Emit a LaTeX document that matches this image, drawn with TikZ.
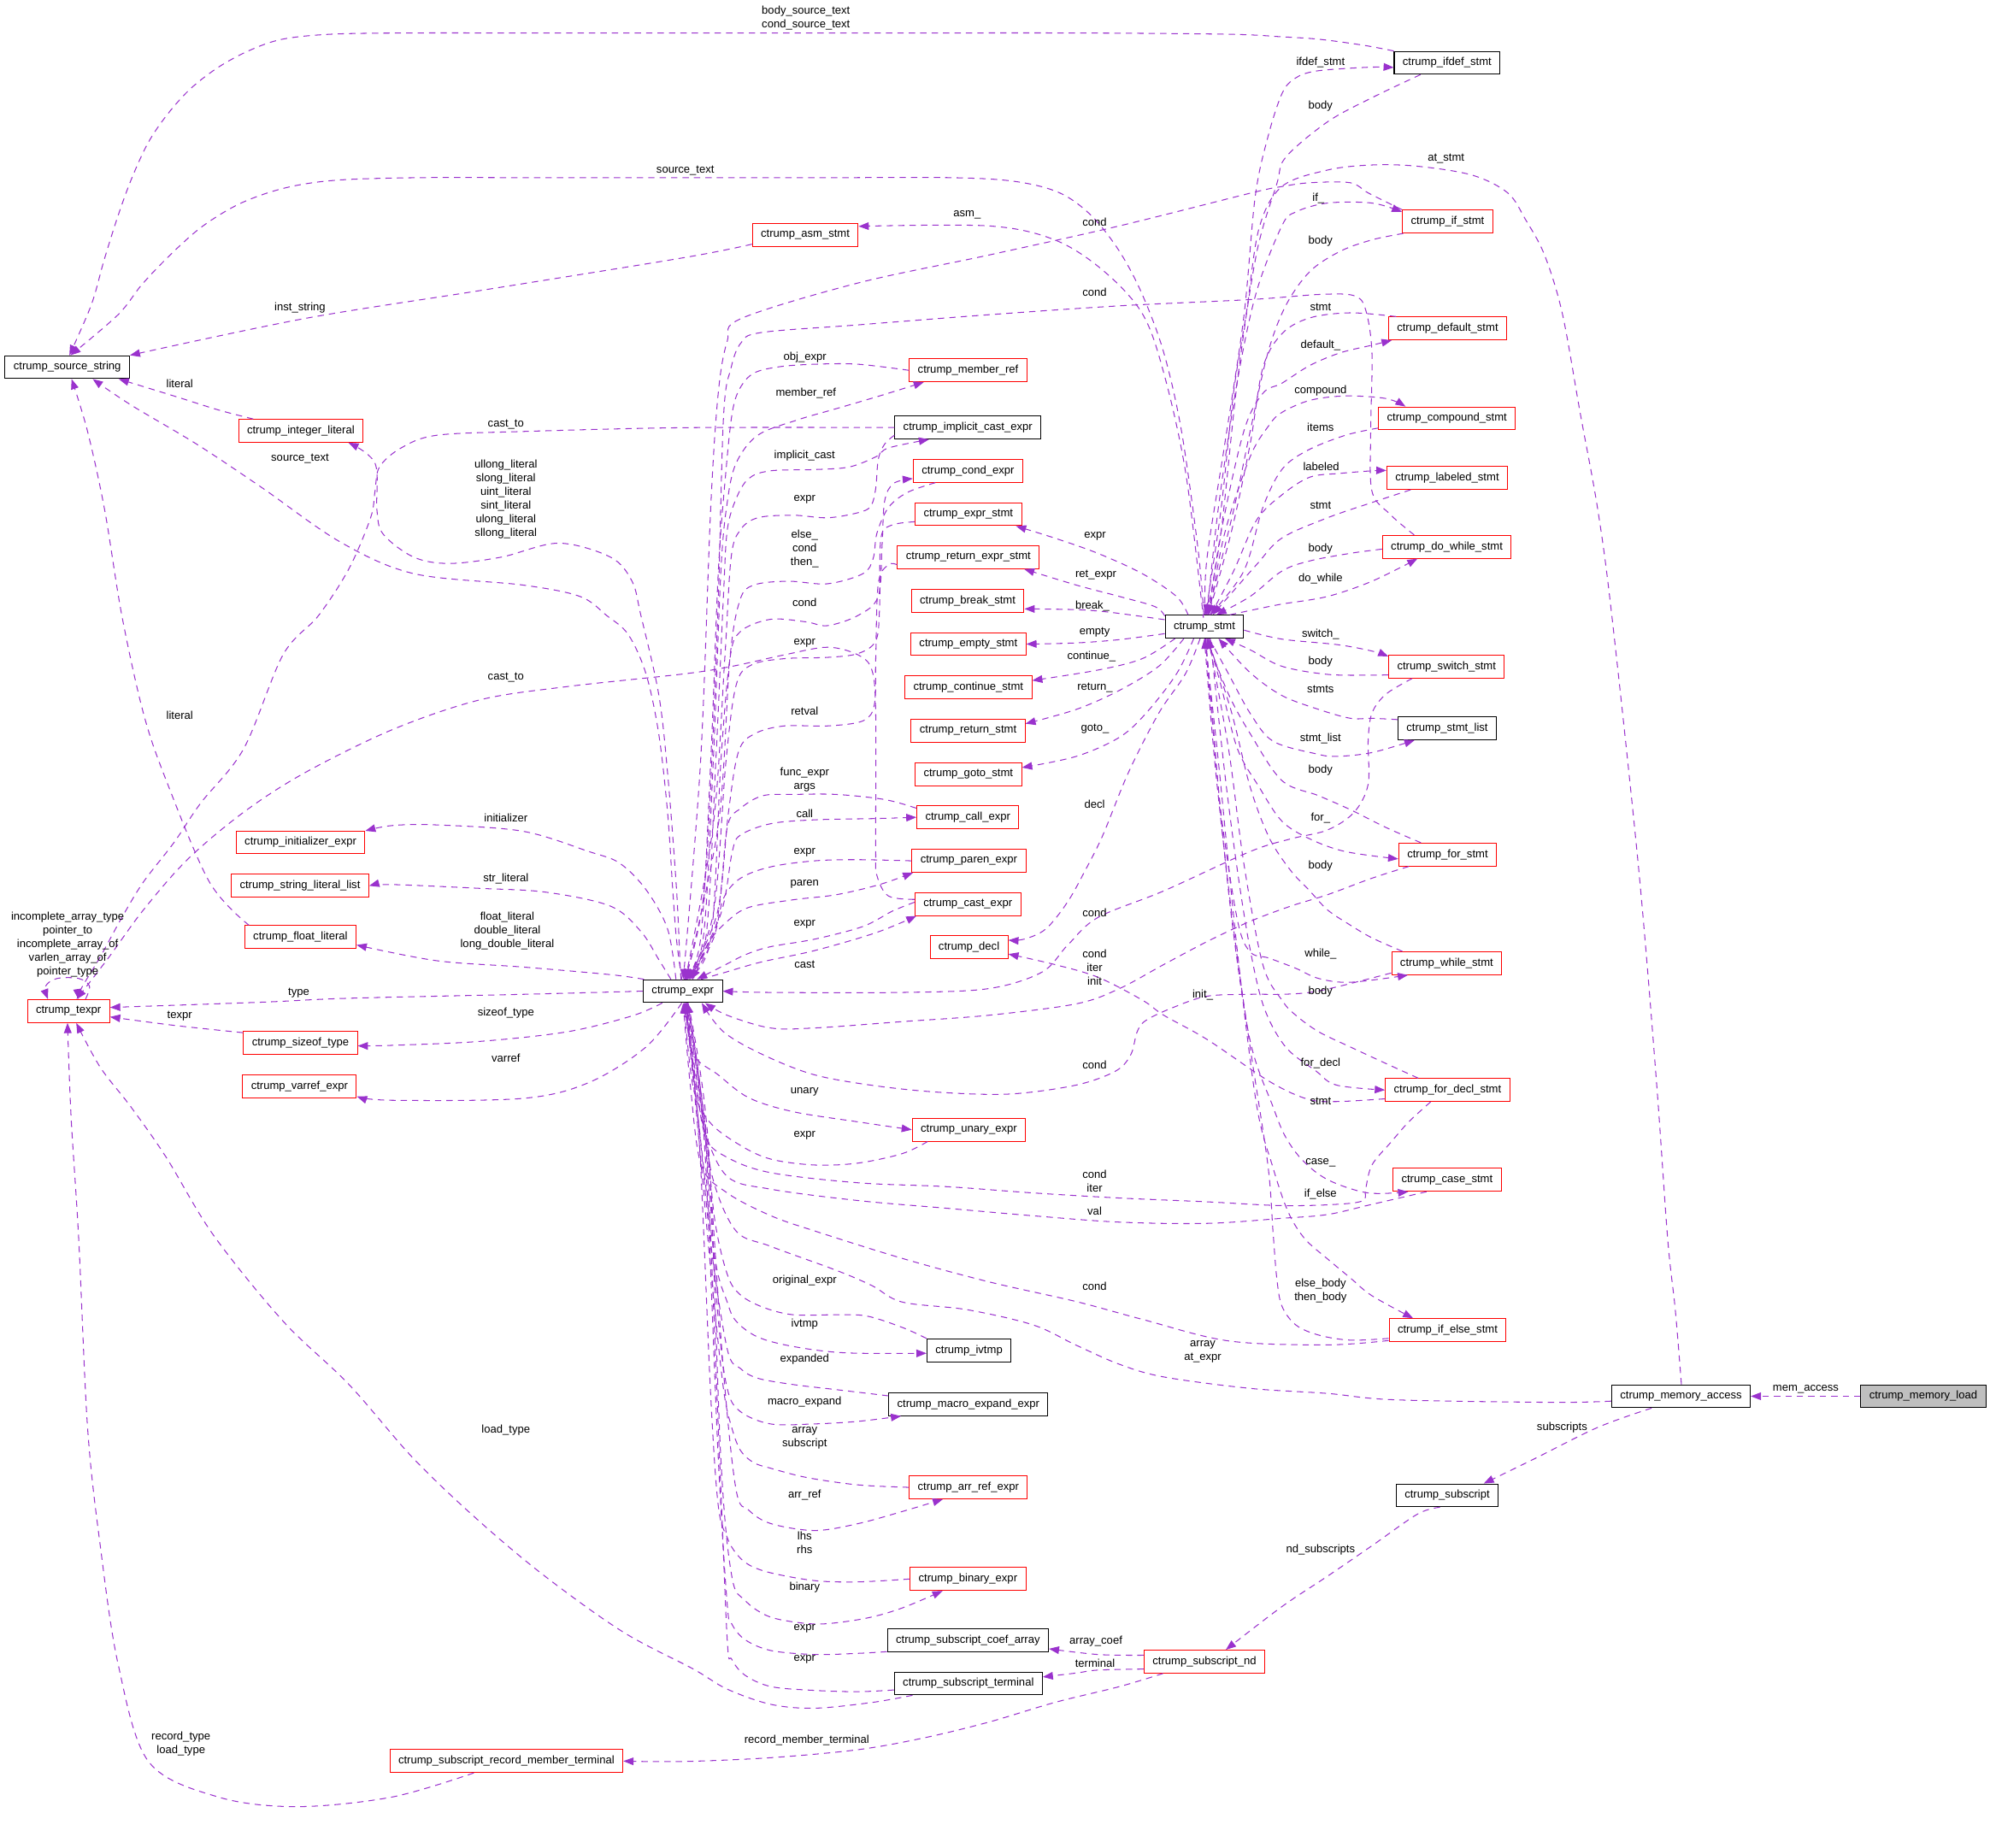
\documentclass[tikz,border=0pt]{standalone}
\usepackage{fontspec}
\setmainfont{Liberation Sans}
\usetikzlibrary{arrows.meta}
\definecolor{edgepurple}{HTML}{9A32CD}
\newcommand{\dfont}{\fontsize{8.8}{10.8}\selectfont}

\begin{document}
\begin{tikzpicture}[x=1pt,y=-1pt,
  cls/.style={draw=black,line width=0.7pt,fill=white,font=\dfont,inner xsep=6.7pt,inner ysep=0pt,minimum height=18pt},
  inc/.style={cls,draw=red},
  root/.style={cls,fill=black!25},
  rel/.style={draw=edgepurple,line width=0.7pt,dash pattern=on 5pt off 4pt,
    -{Triangle[length=8pt,width=6pt,fill=edgepurple]}},
  lbl/.style={font=\dfont,align=center,inner sep=0pt}]
\useasboundingbox (0,0) rectangle (1568,1456);

% classes, left
\node[cls] (ss) at (53,289.3) {ctrump\_source\_string};
\node[inc] (texpr) at (54,796.7) {ctrump\_texpr};
\node[inc] (intlit) at (237,339.5) {ctrump\_integer\_literal};
\node[inc] (asm) at (634.5,185) {ctrump\_asm\_stmt};
\node[inc] (init) at (236.8,663.7) {ctrump\_initializer\_expr};
\node[inc] (strlist) at (236.4,698) {ctrump\_string\_literal\_list};
\node[inc] (floatlit) at (236.7,738.4) {ctrump\_float\_literal};
\node[inc] (sizeof) at (236.7,821.7) {ctrump\_sizeof\_type};
\node[inc] (varref) at (236,856) {ctrump\_varref\_expr};
\node[cls] (expr) at (538,781) {ctrump\_expr};
\node[inc] (srmt) at (399,1387.7) {ctrump\_subscript\_record\_member\_terminal};

% classes, middle
\node[inc] (memref) at (762.8,291.8) {ctrump\_member\_ref};
\node[cls] (implcast) at (762.6,336.9) {ctrump\_implicit\_cast\_expr};
\node[inc] (condexpr) at (762.7,371) {ctrump\_cond\_expr};
\node[inc] (exprstmt) at (763,405.2) {ctrump\_expr\_stmt};
\node[inc] (retexprstmt) at (763,439.1) {ctrump\_return\_expr\_stmt};
\node[inc] (breakstmt) at (762.5,473.5) {ctrump\_break\_stmt};
\node[inc] (emptystmt) at (763,507.5) {ctrump\_empty\_stmt};
\node[inc] (contstmt) at (763,541.5) {ctrump\_continue\_stmt};
\node[inc] (retstmt) at (762.8,575.8) {ctrump\_return\_stmt};
\node[inc] (gotostmt) at (763,610) {ctrump\_goto\_stmt};
\node[inc] (callexpr) at (762.6,644) {ctrump\_call\_expr};
\node[inc] (parenexpr) at (763.4,678.3) {ctrump\_paren\_expr};
\node[inc] (castexpr) at (762.6,712.4) {ctrump\_cast\_expr};
\node[inc] (decl) at (763.5,746.3) {ctrump\_decl};
\node[inc] (unary) at (763.4,890.2) {ctrump\_unary\_expr};
\node[cls] (ivtmp) at (763.5,1064) {ctrump\_ivtmp};
\node[cls] (macro) at (763,1106.5) {ctrump\_macro\_expand\_expr};
\node[inc] (arrref) at (763,1172) {ctrump\_arr\_ref\_expr};
\node[inc] (binary) at (762.7,1244.2) {ctrump\_binary\_expr};
\node[cls] (coefarr) at (762.7,1292.5) {ctrump\_subscript\_coef\_array};
\node[cls] (subterm) at (763,1326.5) {ctrump\_subscript\_terminal};
\node[cls] (stmt) at (949,493.8) {ctrump\_stmt};
\node[inc] (subnd) at (949,1309.3) {ctrump\_subscript\_nd};

% classes, right
\node[cls] (ifdef) at (1140.2,49.5) {ctrump\_ifdef\_stmt};
\node[inc] (ifstmt) at (1140.6,174.6) {ctrump\_if\_stmt};
\node[inc] (default) at (1140.6,258.8) {ctrump\_default\_stmt};
\node[inc] (compound) at (1140.1,329.7) {ctrump\_compound\_stmt};
\node[inc] (labeled) at (1140.3,376.6) {ctrump\_labeled\_stmt};
\node[inc] (dowhile) at (1140,430.9) {ctrump\_do\_while\_stmt};
\node[inc] (switch) at (1139.8,525.3) {ctrump\_switch\_stmt};
\node[cls] (stmtlist) at (1140.3,573.9) {ctrump\_stmt\_list};
\node[inc] (forstmt) at (1140.6,673.4) {ctrump\_for\_stmt};
\node[inc] (whilestmt) at (1139.9,759) {ctrump\_while\_stmt};
\node[inc] (fordecl) at (1140.6,858.9) {ctrump\_for\_decl\_stmt};
\node[inc] (casestmt) at (1140.2,929.7) {ctrump\_case\_stmt};
\node[inc] (ifelse) at (1140.6,1048.1) {ctrump\_if\_else\_stmt};
\node[cls] (memacc) at (1324.5,1100.2) {ctrump\_memory\_access};
\node[cls] (subscript) at (1140.3,1178.3) {ctrump\_subscript};
\node[root] (memload) at (1515.4,1100.2) {ctrump\_memory\_load};

% into ctrump_source_string
\draw[rel] plot[smooth,tension=.55] coordinates {(ifdef.north west) (1074,35.6) (1040,31) (1010,29) (968,27) (850,26) (700,26) (550,26) (420,26) (320,26) (260,27) (222,31) (196,40) (172,53) (150,70) (132,90) (117,112) (104,140) (93,170) (82,205) (72,240) (ss.80)}
  node[lbl] (tBodySrc) at (635,14.1) {body\_source\_text\\cond\_source\_text};
\draw[rel] plot[smooth,tension=.55] coordinates {(stmt.93) (944,433) (931,340) (917,278) (900,232) (882,198) (860,170) (835,152) (800,143) (750,140) (650,140) (530,140) (420,140) (330,140) (265,142) (225,148) (190,160) (160,178) (135,200) (112,224) (93,248) (ss.75)}
  node[lbl] (tSrcTop) at (540,134.5) {source\_text};
\draw[rel] plot[smooth,tension=.55] coordinates {(asm.190) (539,203) (378,229) (240,251) (ss.north east)}
  node[lbl] (tInst) at (236.4,242.8) {inst\_string};
\draw[rel] plot[smooth,tension=.55] coordinates {(intlit.166) (172,323) (137,312) (ss.-13)}
  node[lbl] (tLitInt) at (141.6,302.2) {literal};
\draw[rel] plot[smooth,tension=.55] coordinates {(expr.95) (533,740) (530,700) (526,640) (519,578) (509,531) (495,500) (478,485) (457,470) (412,461) (326,452) (268,427) (206,384) (155,350) (103,319) (ss.-25)}
  node[lbl] (tSrcLow) at (236.4,361.3) {source\_text};
\draw[rel] plot[smooth,tension=.55] coordinates {(floatlit.167) (165,695) (131,615) (113,562) (96,485) (82.5,402) (69,340) (ss.-70)}
  node[lbl] (tLitFloat) at (141.6,563.9) {literal};

% into ctrump_texpr
\draw[rel] plot[smooth,tension=.55] coordinates {(implcast.west) (540,337) (412,340) (344,343) (316,353) (299,368) (295.5,387) (292,408) (275,448) (251,485) (223,516) (192,590) (158,633) (137,664) (113,695) (96,723) (79,754) (64,779) (texpr.50)}
  node[lbl] (tCastTop) at (398.6,334.7) {cast\_to};
\draw[rel] plot[smooth,tension=.55] coordinates {(castexpr.175) (700,706) (691,690) (690,670) (690,562) (687,528) (676,516) (652,510) (618,516) (577,525) (539,531) (447,541) (378,551.5) (309,575) (240,609) (192,640) (148,677) (113,717) (86,754) (texpr.56)}
  node[lbl] (tCastMid) at (398.6,533.6) {cast\_to};
\draw[rel] plot[smooth,tension=.55] coordinates {(texpr.35) (70.5,777) (62,771) (45,771) (36,777) (texpr.150)}
  node[lbl] (tSelf) at (53.3,744.2) {incomplete\_array\_type\\pointer\_to\\incomplete\_array\_of\\varlen\_array\_of\\pointer\_type};
\draw[rel] plot[smooth,tension=.55] coordinates {(expr.west) (412,783.5) (275,786.6) (206,789.7) (texpr.5)}
  node[lbl] (tType) at (235.4,782.5) {type};
\draw[rel] plot[smooth,tension=.55] coordinates {(sizeof.170) (137.5,808) (texpr.-8)}
  node[lbl] (tTexpr) at (141.6,800.5) {texpr};
\draw[rel] plot[smooth,tension=.55] coordinates {(subterm.-168) (687,1341.5) (642,1346) (607.5,1343) (573,1331) (546,1315) (491,1286) (430,1242.5) (378,1199) (326,1149.5) (275,1091) (223,1041) (168,973) (131,912) (103,872) (79,841) (texpr.-57)}
  node[lbl] (tLoad) at (398.6,1126.9) {load\_type};
\draw[rel] plot[smooth,tension=.55] coordinates {(srmt.-160) (309,1416) (234,1423.6) (172,1416) (117,1388) (93,1311) (79,1218) (69,1125) (62,976) (56,880) (texpr.-95)}
  node[lbl] (tRecord) at (142.6,1373.9) {record\_type\\load\_type};

% from ctrump_expr to the left column
\draw[rel] plot[smooth,tension=.55] coordinates {(expr.97) (536,763) (533,700) (526,609) (519,547) (505,485) (498,458) (481,439) (440,428) (395,439) (354,444) (326,439) (302,421) (297,402) (295.5,365) (intlit.-14)}
  node[lbl] (tIntLits) at (398.6,393.2) {ullong\_literal\\slong\_literal\\uint\_literal\\sint\_literal\\ulong\_literal\\sllong\_literal};
\draw[rel] plot[smooth,tension=.55] coordinates {(expr.120) (526,732) (509,701) (488,680) (464,671) (412,655) (344,650) (309,650.5) (init.10)}
  node[lbl] (tInit) at (398.6,644.3) {initializer};
\draw[rel] plot[smooth,tension=.55] coordinates {(expr.135) (519,756) (505,734) (481,714) (430,703) (378,700) (309,697) (strlist.east)}
  node[lbl] (tStr) at (398.6,692.2) {str\_literal};
\draw[rel] plot[smooth,tension=.55] coordinates {(expr.163) (481,768) (412,762) (344,757) (floatlit.-8)}
  node[lbl] (tFloats) at (399.7,733.4) {float\_literal\\double\_literal\\long\_double\_literal};
\draw[rel] plot[smooth,tension=.55] coordinates {(expr.-150) (498,800.5) (447,813) (378,820.6) (309,823.7) (sizeof.-3)}
  node[lbl] (tSizeof) at (398.6,798) {sizeof\_type};
\draw[rel] plot[smooth,tension=.55] coordinates {(expr.-95) (509,825) (464,853) (412,865.5) (309,867) (varref.-10)}
  node[lbl] (tVarref) at (398.6,833.6) {varref};

% ctrump_expr and the middle column, above
\draw[rel] plot[smooth,tension=.55] coordinates {(memref.west) (676,287) (642,287) (614,289) (594,294) (583,306) (577,325) (572,371) (566,450) (560,600) (552,740) (expr.85)}
  node[lbl] (tObj) at (634.3,281.5) {obj\_expr};
\draw[rel] plot[smooth,tension=.55] coordinates {(expr.83) (554,740) (562,600) (568,450) (573,396) (580,365) (597,343) (628,331) (659,322) (693,312) (memref.-165)}
  node[lbl] (tMemRef) at (635,310.2) {member\_ref};
\draw[rel] plot[smooth,tension=.55] coordinates {(expr.81) (556,740) (564,600) (570,470) (573,418) (580,393) (590,377) (607,371) (642,370) (669,368) (690,360) (700,353) (implcast.-163)}
  node[lbl] (tImpl) at (634,358.8) {implicit\_cast};
\draw[rel] plot[smooth,tension=.55] coordinates {(implcast.-174) (697,350) (692,362) (690,385) (686,399) (676,404) (652,408) (625,406) (597,408) (583,418) (576,440) (571,520) (562,650) (expr.78)}
  node[lbl] (tImplExpr) at (634,393.4) {expr};
\draw[rel] plot[smooth,tension=.55] coordinates {(condexpr.-160) (715,388) (700,400) (691,420) (688,440) (680,452) (652,460) (621,458) (594,461) (583,473) (575,520) (566,650) (expr.76)}
  node[lbl] (tElse) at (634,432.4) {else\_\\cond\\then\_};
\draw[rel] plot[smooth,tension=.55] coordinates {(expr.74) (560,740) (568,600) (575,520) (583,498) (607,488) (635,490) (652,493) (676,485) (692,470) (695,430) (697,395) (704,381) (condexpr.-172)}
  node[lbl] (tCondExpr) at (634,474.8) {cond};
\draw[rel] plot[smooth,tension=.55] coordinates {(exprstmt.-172) (702,414) (694,425) (693,480) (690,505) (676,515) (652,518) (618,519) (592,524) (580,540) (572,600) (562,720) (expr.72)}
  node[lbl] (tExprStmt) at (634,506.7) {expr};
\draw[rel] plot[smooth,tension=.55] coordinates {(retexprstmt.-174) (700,445) (692,460) (690,520) (689,555) (680,568) (652,572) (618,572) (595,578) (582,592) (574,640) (564,730) (expr.70)}
  node[lbl] (tRetval) at (634,560) {retval};
\draw[rel] plot[smooth,tension=.55] coordinates {(callexpr.170) (697,630) (659,626) (625,626) (601,627) (583.5,637) (573,652) (565,720) (expr.65)}
  node[lbl] (tFunc) at (634,614.5) {func\_expr\\args};
\draw[rel] plot[smooth,tension=.55] coordinates {(expr.60) (568,720) (577,671) (583.5,658) (607.5,649) (642,646) (690,645) (callexpr.west)}
  node[lbl] (tCall) at (634,641.2) {call};
\draw[rel] plot[smooth,tension=.55] coordinates {(parenexpr.180) (676,677.4) (642,678.3) (607.5,683) (583.5,692) (570,708) (562,740) (expr.55)}
  node[lbl] (tParenExpr) at (634,672) {expr};
\draw[rel] plot[smooth,tension=.55] coordinates {(expr.50) (559,742) (573,726) (590,715) (625,709) (659,705) (693,697) (parenexpr.-168)}
  node[lbl] (tParen) at (634,696.6) {paren};
\draw[rel] plot[smooth,tension=.55] coordinates {(castexpr.178) (703,718) (680,730) (642,740) (607,746) (588,752) (570,761) (expr.40)}
  node[lbl] (tCastExpr) at (634,728.4) {expr};
\draw[rel] plot[smooth,tension=.55] coordinates {(expr.33) (572,766) (600,758) (642,749) (690,735) (castexpr.-167)}
  node[lbl] (tCast) at (634,759.7) {cast};

% ctrump_expr and the middle column, below
\draw[rel] plot[smooth,tension=.55] coordinates {(expr.-70) (546,830) (566,847) (590,865) (625,876) (676,884) (unary.west)}
  node[lbl] (tUnary) at (634,860.2) {unary};
\draw[rel] plot[smooth,tension=.55] coordinates {(unary.-164) (711,909) (676,916.5) (642,918) (607.5,913.4) (583.5,902.6) (559,884) (546,856) (expr.-84)}
  node[lbl] (tUnaryExpr) at (634,894.8) {expr};
\draw[rel] plot[smooth,tension=.55] coordinates {(ivtmp.north west) (711,1046) (683,1037) (659,1036) (625,1036) (601,1030) (583,1020) (573,1004) (563,960) (555,880) (expr.-78)}
  node[lbl] (tOrig) at (634,1009) {original\_expr};
\draw[rel] plot[smooth,tension=.55] coordinates {(expr.-75) (550,880) (563,990) (573,1026) (580,1041) (597,1053.5) (625,1061) (666,1066) (ivtmp.-176)}
  node[lbl] (tIvtmp) at (634,1043.6) {ivtmp};
\draw[rel] plot[smooth,tension=.55] coordinates {(macro.174) (659,1095) (625,1091) (597,1086) (583,1078) (573,1063) (560,980) (550,880) (expr.-80)}
  node[lbl] (tExpanded) at (634,1070.9) {expanded};
\draw[rel] plot[smooth,tension=.55] coordinates {(expr.-72) (556,900) (566,1040) (573,1094) (583,1112) (607,1122) (642,1122) (676,1120) (macro.-170)}
  node[lbl] (tMacro) at (634,1104.6) {macro\_expand};
\draw[rel] plot[smooth,tension=.55] coordinates {(arrref.west) (683,1170.6) (659,1168) (632,1163.5) (607.5,1157) (594,1152.6) (583.5,1143) (576.6,1125) (570,1094) (560,1000) (549,880) (expr.-77)}
  node[lbl] (tArrSub) at (634,1132.8) {array\\subscript};
\draw[rel] plot[smooth,tension=.55] coordinates {(expr.-68) (557,900) (570,1080) (580,1174) (590,1190) (607.5,1200.6) (642,1206) (676,1200.6) (711,1191) (arrref.-155)}
  node[lbl] (tArrRef) at (634,1178) {arr\_ref};
\draw[rel] plot[smooth,tension=.55] coordinates {(binary.west) (676,1246.5) (642,1245.5) (607.5,1239.4) (590,1233) (580,1224) (573,1211.5) (566,1187) (560,1100) (551,900) (expr.-73)}
  node[lbl] (tLhsRhs) at (634,1215.4) {lhs\\rhs};
\draw[rel] plot[smooth,tension=.55] coordinates {(expr.-66) (558,900) (568,1150) (576.6,1242) (587,1261) (604,1273) (625,1278) (649,1279.6) (683,1275) (711,1267) (binary.-155)}
  node[lbl] (tBinary) at (634,1250.5) {binary};
\draw[rel] plot[smooth,tension=.55] coordinates {(coefarr.-172) (676,1302.8) (642,1303.7) (607.5,1300.6) (587,1292) (576.6,1279.6) (573,1264) (566,1150) (555,900) (expr.-70)}
  node[lbl] (tCoefExpr) at (634,1283) {expr};
\draw[rel] plot[smooth,tension=.55] coordinates {(subterm.-175) (676,1333) (642,1332) (607.5,1329) (587,1320) (576.6,1307.5) (573,1292) (567,1150) (556,900) (expr.-68)}
  node[lbl] (tTermExpr) at (634,1307.5) {expr};
\draw[rel] plot[smooth,tension=.55] coordinates {(ifelse.-170) (1046,1059.7) (968,1056.6) (900,1039.6) (848,1025.6) (779,1010) (711,991.6) (642,970) (607.5,958) (573,940) (552.5,918) (544,856) (expr.-88)}
  node[lbl] (tIfElseCond) at (862.5,1013.3) {cond};
\draw[rel] plot[smooth,tension=.55] coordinates {(memacc.-176) (1224,1105) (1099,1103) (1046,1098) (985,1094) (917,1085) (882,1075) (848,1060) (814,1044) (762,1032) (711,1026) (687,1013) (659,1001) (607,982) (580,970) (562,930) (552,870) (expr.-82)}
  node[lbl] (tAtExpr) at (947.7,1065.2) {array\\at\_expr};

% subscripts
\draw[rel] plot[smooth,tension=.55] coordinates {(subnd.-164) (882,1329) (831,1341.5) (779,1357) (728,1369.4) (676,1378.7) (607.5,1385) (539,1388) (srmt.east)}
  node[lbl] (tRecMember) at (635.7,1371.3) {record\_member\_terminal};
\draw[rel] plot[smooth,tension=.55] coordinates {(subnd.174) (865,1303.7) (coefarr.-6)}
  node[lbl] (tCoef) at (863.5,1293) {array\_coef};
\draw[rel] plot[smooth,tension=.55] coordinates {(subnd.-173) (865,1316) (848,1318.3) (subterm.5)}
  node[lbl] (tTerminal) at (862.8,1310.6) {terminal};
\draw[rel] plot[smooth,tension=.55] coordinates {(subscript.-121) (1117,1193) (1081,1218) (1046,1242) (1010,1266) (subnd.29)}
  node[lbl] (tNd) at (1040.5,1221) {nd\_subscripts};
\draw[rel] plot[smooth,tension=.55] coordinates {(memacc.-158) (1259,1124.7) (1209,1149.5) (subscript.18)}
  node[lbl] (tSubs) at (1230.8,1124.7) {subscripts};
\draw[rel] (memload.west) -- (memacc.east)
  node[lbl] (tMemAccess) at (1422.8,1094.4) {mem\_access};

% ctrump_stmt and the middle column
\draw[rel] plot[smooth,tension=.55] coordinates {(stmt.97) (947,476) (934,371) (917,294) (900,247) (869,213) (831,189) (779,178) (asm.9)}
  node[lbl] (tAsm) at (762,169.5) {asm\_};
\draw[rel] plot[smooth,tension=.55] coordinates {(stmt.144) (927,470) (900,452) (865,436) (831,424) (exprstmt.-14)}
  node[lbl] (tStmtExpr) at (862.8,422.8) {expr};
\draw[rel] plot[smooth,tension=.55] coordinates {(stmt.165) (910,478) (882,470) (848,461) (retexprstmt.-12)}
  node[lbl] (tRetExpr) at (863.5,453) {ret\_expr};
\draw[rel] plot[smooth,tension=.55] coordinates {(stmt.170) (875,482.5) (848,480.4) (breakstmt.-8)}
  node[lbl] (tBreak) at (860.8,477.9) {break\_};
\draw[rel] plot[smooth,tension=.55] coordinates {(stmt.-170) (882,504) (848,506.6) (emptystmt.east)}
  node[lbl] (tEmpty) at (862.5,498.3) {empty};
\draw[rel] plot[smooth,tension=.55] coordinates {(stmt.-158) (900,519) (865,528) (contstmt.6)}
  node[lbl] (tContinue) at (860,517) {continue\_};
\draw[rel] plot[smooth,tension=.55] coordinates {(stmt.-150) (913,525) (882,544) (848,559) (retstmt.7)}
  node[lbl] (tReturn) at (862.8,542.2) {return\_};
\draw[rel] plot[smooth,tension=.55] coordinates {(stmt.-132) (927,531) (903,562) (882,581) (848,596) (gotostmt.7)}
  node[lbl] (tGoto) at (862.8,574) {goto\_};
\draw[rel] plot[smooth,tension=.55] coordinates {(stmt.-110) (934,531) (913,562) (889,609) (869,658) (855,686) (841,711) (824,732) (807,740) (decl.10)}
  node[lbl] (tDecl) at (862.5,633.5) {decl};
\draw[rel] plot[smooth,tension=.55] coordinates {(fordecl.-172) (1053,868) (1030,866) (1000,852) (951,819) (917,800) (900,788) (865,770) (831,760) (decl.-10)}
  node[lbl] (tForDeclStmt) at (1040.5,867.6) {stmt};

% right column into ctrump_expr
\draw[rel] plot[smooth,tension=.55] coordinates {(ifstmt.north west) (1078,152) (1064,144) (1032,144) (1010,147) (986,152) (882,178) (779,201) (676,223) (584,251) (573,269) (566,309) (560,400) (552,600) (expr.88)}
  node[lbl] (tIfCond) at (862.5,174.8) {cond};
\draw[rel] plot[smooth,tension=.55] coordinates {(dowhile.160) (1095,405) (1081,387) (1080,340) (1081,278) (1076,244) (1067,233) (1040,232) (986,236) (882,241) (779,248) (676,256) (600,262) (584,270) (576,290) (570,330) (565,500) (555,700) (expr.84)}
  node[lbl] (tDoCond) at (862.5,230.4) {cond};
\draw[rel] plot[smooth,tension=.55] coordinates {(switch.-161) (1092,547) (1081,562) (1078,584) (1078,618) (1067,640) (1046,654) (1017,661) (985,671) (917,702) (865,723) (841,745) (821,766) (779,779) (711,782) (607,782) (expr.east)}
  node[lbl] (tSwitchCond) at (862.5,719) {cond};
\draw[rel] plot[smooth,tension=.55] coordinates {(forstmt.-163) (1081,692) (1046,705) (1017,714) (985,726) (951,742) (917,760) (882,779) (848,791) (779,800) (711,805) (642,810) (607,810) (573,800) (expr.-28)}
  node[lbl] (tForCond) at (862.5,762.5) {cond\\iter\\init};
\draw[rel] plot[smooth,tension=.55] coordinates {(whilestmt.-170) (1056,777) (1032,782) (1010,783.5) (985,783.5) (951,785) (924,794) (903,804) (896,813) (891,831) (879,844) (848,855) (797,862) (745,861) (693,856) (642,847) (601,831) (570,813) (expr.-32)}
  node[lbl] (tWhileCond) at (862.5,839) {cond};
\node[lbl] (tInitU) at (947.7,783.8) {init\_};
\draw[rel] plot[smooth,tension=.55] coordinates {(fordecl.-145) (1110,884) (1096,900) (1081,918) (1076,937) (1074,946) (1053,949) (1010,950) (951,947) (882,944) (814,940) (745,935) (676,932) (607,924) (573,912) (556,896) (548,850) (expr.-80)}
  node[lbl] (tForDeclCond) at (862.5,930.4) {cond\\iter};
\draw[rel] plot[smooth,tension=.55] coordinates {(casestmt.-150) (1081,949) (1046,957) (1010,960) (951,964) (882,963) (814,958) (745,952) (676,946) (607,937) (573,927) (555,890) (546,840) (expr.-83)}
  node[lbl] (tVal) at (862.5,954.2) {val};

% ctrump_stmt and the right column
\draw[rel] plot[smooth,tension=.55] coordinates {(stmt.88) (951,440) (965,350) (980,250) (989,155) (999,108) (1010,74) (1020,62) (1037,56) (1078,53) (ifdef.-175)}
  node[lbl] (tIfdef) at (1040.5,48.9) {ifdef\_stmt};
\draw[rel] plot[smooth,tension=.55] coordinates {(ifdef.-156) (1081,77) (1046,96) (1013,124) (1006,145) (990,200) (975,300) (962,420) (stmt.80)}
  node[lbl] (tIfdefBody) at (1040.5,83.5) {body};
\draw[rel] plot[smooth,tension=.55] coordinates {(memacc.88) (1320,1032) (1314,976) (1305,850) (1291,683) (1270,485) (1259,402) (1245,325) (1231,247) (1217,201) (1202,173) (1188,152) (1160,138) (1117,131) (1081,130) (1046,134) (1010,147) (992,180) (982,247) (972,309) (962,402) (stmt.85)}
  node[lbl] (tAtStmt) at (1139.4,125.3) {at\_stmt};
\draw[rel] plot[smooth,tension=.55] coordinates {(stmt.78) (960,400) (975,300) (990,230) (1010,178) (1021,167) (1046,160) (1081,160) (ifstmt.168)}
  node[lbl] (tIf) at (1038.8,156.2) {if\_};
\draw[rel] plot[smooth,tension=.55] coordinates {(ifstmt.-165) (1081,189) (1056,198) (1032,214) (1013,241) (999,278) (985,340) (972,402) (stmt.75)}
  node[lbl] (tIfBody) at (1040.5,190) {body};
\draw[rel] plot[smooth,tension=.55] coordinates {(default.167) (1064,246.5) (1032,250.5) (1010,263) (995,290) (985,350) (970,420) (stmt.72)}
  node[lbl] (tDefStmt) at (1040.5,242.2) {stmt};
\draw[rel] plot[smooth,tension=.55] coordinates {(stmt.70) (962,420) (980,340) (995,310) (1010,302) (1032,288) (1056,278) (1081,272) (default.-168)}
  node[lbl] (tDefault) at (1040.5,272.2) {default\_};
\draw[rel] plot[smooth,tension=.55] coordinates {(stmt.68) (965,420) (985,360) (1000,335) (1010,325) (1032,315.5) (1060,312) (1092,314) (compound.164)}
  node[lbl] (tCompound) at (1040.5,307.8) {compound};
\draw[rel] plot[smooth,tension=.55] coordinates {(compound.-172) (1060,343) (1030,355) (1010,370) (995,400) (980,450) (stmt.65)}
  node[lbl] (tItems) at (1040.5,336.5) {items};
\draw[rel] plot[smooth,tension=.55] coordinates {(stmt.62) (972,450) (990,410) (1010,390) (1032,376) (1056,373) (1081,371) (labeled.173)}
  node[lbl] (tLabeled) at (1041,367.5) {labeled};
\draw[rel] plot[smooth,tension=.55] coordinates {(labeled.-162) (1081,396) (1046,408) (1010,424) (990,445) (stmt.55)}
  node[lbl] (tLabStmt) at (1040.5,398.4) {stmt};
\draw[rel] plot[smooth,tension=.55] coordinates {(dowhile.-178) (1064,436) (1032,442) (1010,450) (985,470) (stmt.45)}
  node[lbl] (tDoBody) at (1040.5,432.4) {body};
\draw[rel] plot[smooth,tension=.55] coordinates {(stmt.25) (990,480) (1010,476) (1046,470) (1081,458) (dowhile.-158)}
  node[lbl] (tDoWhile) at (1040.5,456) {do\_while};
\draw[rel] plot[smooth,tension=.55] coordinates {(stmt.-5) (1010,503.6) (1054,508) (1081,513) (switch.170)}
  node[lbl] (tSwitch) at (1040.5,499.5) {switch\_};
\draw[rel] plot[smooth,tension=.55] coordinates {(switch.-172) (1081,532) (1046,531.4) (1010,525) (985,512) (stmt.-30)}
  node[lbl] (tSwitchBody) at (1040.5,521.2) {body};
\draw[rel] plot[smooth,tension=.55] coordinates {(stmtlist.170) (1081,566) (1064,566) (1039,559) (1010,548) (985,530) (stmt.-40)}
  node[lbl] (tStmts) at (1040.5,542.8) {stmts};
\draw[rel] plot[smooth,tension=.55] coordinates {(stmt.-68) (968,531) (985,562) (1003,584) (1037,594) (1053,596) (1081,593) (stmtlist.-160)}
  node[lbl] (tStmtList) at (1040.5,581.8) {stmt\_list};
\draw[rel] plot[smooth,tension=.55] coordinates {(forstmt.156) (1092,652) (1064,638) (1039,627) (1010,615) (985,578) (968,547) (stmt.-80)}
  node[lbl] (tForBody) at (1040.5,606.6) {body};
\draw[rel] plot[smooth,tension=.55] coordinates {(stmt.-74) (962,540) (975,590) (992,620) (1010,647) (1032,661) (1060,671) (forstmt.-175)}
  node[lbl] (tFor) at (1040.5,644.6) {for\_};
\draw[rel] plot[smooth,tension=.55] coordinates {(whilestmt.165) (1081,739) (1064,729) (1046,717) (1032,702) (1017,686) (1000,660) (985,620) (970,560) (stmt.-76)}
  node[lbl] (tWhileBody) at (1040.5,682.3) {body};
\draw[rel] plot[smooth,tension=.55] coordinates {(stmt.-84) (955,560) (962,640) (975,725) (985,750) (1000,755) (1021,763) (1039,771) (1064,774) (whilestmt.-163)}
  node[lbl] (tWhile) at (1040.5,752) {while\_};
\draw[rel] plot[smooth,tension=.55] coordinates {(stmt.-64) (965,609) (975,686) (985,748) (996,794) (1013,825) (1037,844) (1053,855) (fordecl.180)}
  node[lbl] (tForDecl) at (1040.5,837.6) {for\_decl};
\draw[rel] plot[smooth,tension=.55] coordinates {(fordecl.158) (1092,838) (1064,825) (1039,813) (1021,800) (1010,788) (995,760) (980,680) (968,590) (stmt.-72)}
  node[lbl] (tForDeclBody) at (1040.5,781.3) {body};
\draw[rel] plot[smooth,tension=.55] coordinates {(stmt.-86) (958,600) (970,720) (985,820) (1003,872) (1013,896) (1027,915) (1047,930) (1078,940) (casestmt.-163)}
  node[lbl] (tCase) at (1040.5,915.9) {case\_};
\draw[rel] plot[smooth,tension=.55] coordinates {(stmt.-88) (960,600) (975,750) (990,870) (1003,920) (1015,955) (1028,976) (1046,992) (1064,1007) (1081,1021) (ifelse.161)}
  node[lbl] (tIfElse) at (1040.5,941.2) {if\_else};
\draw[rel] plot[smooth,tension=.55] coordinates {(ifelse.-172) (1064,1056) (1039,1052) (1021,1044) (1010,1029) (1006,1007) (1003,970) (999,918) (985,825) (972,732) (958,609) (stmt.-90)}
  node[lbl] (tElseThen) at (1040.5,1016.8) {else\_body\\then\_body};
\end{tikzpicture}
\end{document}
